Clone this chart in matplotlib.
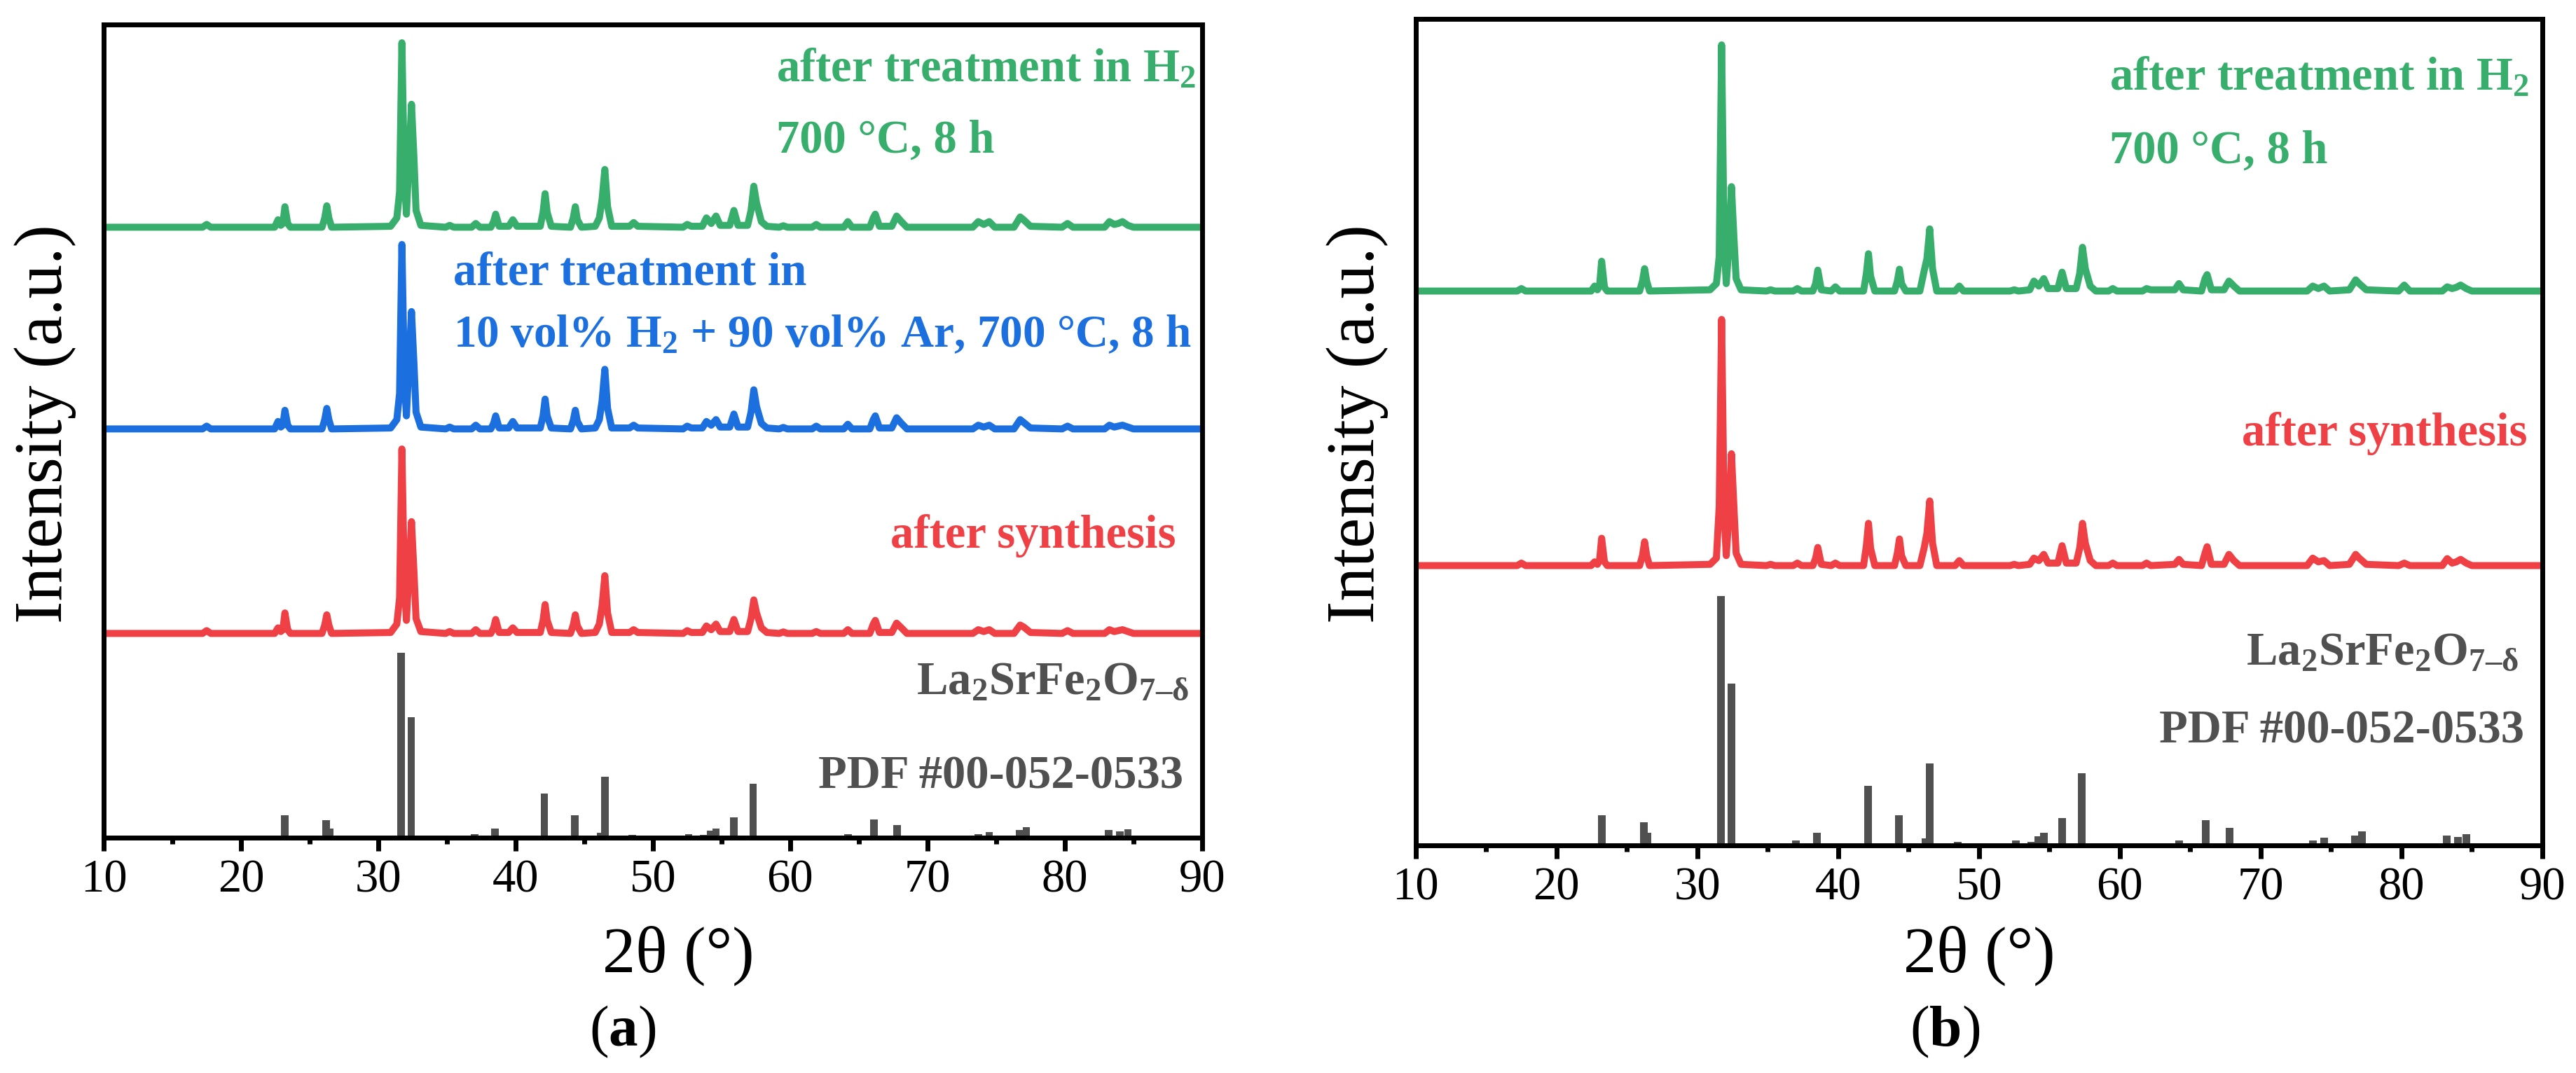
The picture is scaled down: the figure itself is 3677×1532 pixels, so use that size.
import matplotlib
matplotlib.use('Agg')
import matplotlib.pyplot as plt
from matplotlib.ticker import MultipleLocator

plt.rcParams['font.family'] = ['Liberation Serif', 'DejaVu Serif']
plt.rcParams['mathtext.fontset'] = 'custom'
plt.rcParams['mathtext.rm'] = 'Liberation Serif'
plt.rcParams['mathtext.bf'] = 'Liberation Serif:bold'
plt.rcParams['mathtext.default'] = 'regular'

GREEN = '#38ae6c'
BLUE = '#1b6fde'
RED = '#ef4145'
GRAY = '#505050'

# -------------------------------------------------------------------------------
# Data - 2theta nodes shared by all measured patterns (read off the figure)
# -------------------------------------------------------------------------------
two_theta = [
    10.0,
    17.2, 17.5, 17.8,
    22.45, 22.7, 22.9,
    23.05, 23.2, 23.4, 23.6,
    25.9, 26.1, 26.25, 26.4, 26.6,
    30.9, 31.35, 31.55, 31.72, 31.9, 32.05, 32.25, 32.42, 32.6, 32.75, 33.1,
    34.9, 35.2, 35.5,
    36.8, 37.1, 37.4,
    38.2, 38.4, 38.55, 38.8,
    39.5, 39.8, 40.1,
    41.8, 42.0, 42.15, 42.3, 42.6,
    44.0, 44.2, 44.35, 44.5, 44.8,
    45.8, 46.1, 46.3, 46.5, 46.7, 47.0,
    48.3, 48.6, 48.9,
    52.2, 52.5, 52.8,
    53.6, 53.9, 54.25, 54.6, 54.9,
    55.6, 55.9, 56.2,
    56.9, 57.15, 57.35, 57.55, 57.9, 58.3,
    59.2, 59.5, 59.8,
    61.6, 61.9, 62.2,
    63.9, 64.2, 64.5,
    65.8, 66.05, 66.2, 66.5,
    67.4, 67.75, 68.1, 68.5,
    73.3, 73.7, 74.1, 74.5, 74.9,
    76.3, 76.75, 77.0, 77.5,
    79.8, 80.2, 80.6,
    82.9, 83.25, 83.6, 83.9, 84.2, 84.6, 85.0,
    90.0,
]

# relative intensity (%) - panel (a)
h2_a = [
    1.0,
    1, 2.5, 1,
    1, 5, 2,
    3, 12, 3, 1,
    1, 6, 12.5, 6, 1,
    1.5, 6, 20, 100, 28, 8, 40, 67, 38, 10, 2,
    1, 2, 1,
    1, 3, 1,
    1, 4, 8, 1.5,
    1.5, 5, 1.5,
    1.5, 9, 19, 9, 1.5,
    1, 6, 12, 5, 1,
    1.5, 6, 16, 32, 12, 1.5,
    1.5, 3.5, 1.5,
    1, 2.5, 1.5,
    1.5, 6, 3, 7, 2,
    2, 10, 2,
    2, 10, 23, 14, 4, 1.5,
    1, 1.8, 1,
    1, 2.5, 1,
    1, 4, 1,
    1, 6, 8, 1.5,
    1.5, 7, 4, 1,
    1, 4, 2.5, 4, 1,
    1, 6.5, 5, 1.5,
    1, 3, 1,
    1, 4, 2.5, 3, 4, 2, 1,
    1,
]

h2ar_a = [
    1.0,
    1, 2.5, 1,
    1, 5, 2,
    3, 11, 3, 1,
    1, 6, 12, 6, 1,
    1.5, 6, 20, 100, 28, 8, 38, 64, 36, 10, 2,
    1, 2, 1,
    1, 3, 1,
    1, 4, 8, 1.5,
    1.5, 5, 1.5,
    1.5, 8, 17, 8, 1.5,
    1, 5.5, 11, 5, 1,
    1.5, 6, 16, 33, 12, 1.5,
    1.5, 3, 1.5,
    1, 2.5, 1.5,
    1.5, 5, 3, 6, 2,
    2, 9, 2,
    2, 10, 22, 13, 4, 1.5,
    1, 1.8, 1,
    1, 2.5, 1,
    1, 3.5, 1,
    1, 6, 8, 1.5,
    1.5, 7, 4, 1,
    1, 3, 2, 3, 1,
    1, 6, 4.5, 1.5,
    1, 2.5, 1,
    1, 3, 2, 2.5, 3, 2, 1,
    1,
]

synth_a = [
    1.0,
    1, 2.5, 1,
    1, 4, 2,
    3, 12, 3, 1,
    1, 5.5, 11, 5.5, 1,
    1.5, 6, 20, 100, 28, 8, 36, 61, 34, 9, 2,
    1, 2, 1,
    1, 3, 1,
    1, 4, 8.5, 1.5,
    1.5, 4, 1.5,
    1.5, 8, 16.5, 8, 1.5,
    1, 5.5, 11, 5, 1,
    1.5, 6, 16, 32, 12, 1.5,
    1.5, 3, 1.5,
    1, 2.5, 1.5,
    1.5, 5, 3, 6, 2,
    2, 8.5, 2,
    2, 9, 19, 12, 4, 1.5,
    1, 1.8, 1,
    1, 2, 1,
    1, 3, 1,
    1, 6, 8, 1.5,
    1.5, 6.5, 4, 1,
    1, 3, 2, 3, 1,
    1, 5.5, 4.5, 1.5,
    1, 2.5, 1,
    1, 3, 2, 2.5, 3, 2, 1,
    1,
]

# relative intensity (%) - panel (b)
h2_b = [
    1.0,
    1, 2, 1,
    1, 3, 1.5,
    3, 13, 2.5, 1,
    1, 5, 10, 5, 1,
    1.5, 4, 15, 100, 20, 4, 20, 43, 22, 6, 1.5,
    1, 1.5, 1,
    1, 2, 1,
    1, 4, 9.4, 1.5,
    1, 2.7, 1,
    1, 8, 16, 7, 1,
    1, 5, 9.8, 4, 1,
    1, 9, 14, 26, 10, 1,
    1, 3, 1,
    1, 1.5, 1,
    1.5, 5, 3, 6, 2,
    2, 8.6, 2,
    2, 8, 18.6, 10, 3, 1,
    1, 2, 1,
    1, 2, 1.5,
    1.5, 4, 1.5,
    1, 6, 7.6, 1.5,
    1.5, 5, 3, 1,
    1, 3, 2, 3, 1,
    1.5, 5.5, 4, 1.5,
    1, 3.4, 1,
    1, 2.7, 2, 2.5, 3.4, 2, 1,
    1,
]

synth_b = [
    1.0,
    1, 2, 1,
    1, 2.5, 1.5,
    3, 12, 2.5, 1,
    1, 5, 10.6, 5, 1,
    1.5, 4, 25, 100, 22, 5, 22, 46, 24, 6, 1.5,
    1, 1.5, 1,
    1, 2, 1,
    1, 4, 8.3, 1.5,
    1, 2, 1,
    1, 9, 18, 8, 1,
    1, 6, 11.7, 5, 1,
    1, 8, 14, 27, 10, 1,
    1, 3, 1,
    1, 1.5, 1,
    1.5, 4, 3, 5.5, 2,
    2, 9, 2,
    2, 8, 18, 10, 3, 1,
    1, 2, 1,
    1, 2, 1,
    1.5, 3.5, 1.5,
    1, 6, 8.6, 1.5,
    1.5, 5.5, 3, 1,
    1, 4, 2.5, 3, 1,
    1.5, 5.5, 4, 1.5,
    1, 2, 1,
    1, 3.8, 2, 2.5, 3.5, 2, 1,
    1,
]

# reference pattern La2SrFe2O7-d, PDF #00-052-0533
ref_pos = [23.2, 26.2, 26.45, 31.65, 32.4, 37.0, 38.5, 42.1, 44.3, 46.2, 46.5,
           48.5, 52.6, 53.7, 54.2, 54.6, 55.9, 57.3, 64.2, 66.1, 67.8, 73.7,
           74.5, 76.7, 77.2, 83.2, 84.0, 84.6]
ref_int = [12, 9.3, 5, 100, 65, 2, 5, 24, 12, 2.7, 33,
           1.5, 2, 1.5, 3.8, 5, 11, 29, 2, 10, 7, 2,
           3, 4, 5.7, 4, 3.3, 4.5]

xticks = [10, 20, 30, 40, 50, 60, 70, 80, 90]

label_h2 = ['after treatment in H$_2$', '700 °C, 8 h']
label_h2ar = ['after treatment in', '10 vol% H$_2$ + 90 vol% Ar, 700 °C, 8 h']
label_synth = 'after synthesis'
label_ref = ['La$_2$SrFe$_2$O$_{7\u2013\u03b4}$', 'PDF #00-052-0533']


# -------------------------------------------------------------------------------
# Function - To draw one stacked XRD panel
# -------------------------------------------------------------------------------
def draw_panel(ax, curves, scale, stick_scale, ymax):
    for values, color, offset in curves:
        ax.plot(two_theta, [offset + scale * v for v in values], color=color,
                lw=3.6, solid_joinstyle='round', zorder=3)

    ax.bar(ref_pos, [stick_scale * v for v in ref_int], width=0.55,
           bottom=0, color=GRAY, linewidth=0, zorder=2)

    ax.set_xlim(10, 90)
    ax.set_ylim(0, ymax)
    ax.set_xticks(xticks)
    ax.xaxis.set_minor_locator(MultipleLocator(5))
    ax.set_yticks([])
    ax.tick_params(axis='x', which='major', direction='out', length=7,
                   width=2.5, labelsize=24, pad=4)
    ax.tick_params(axis='x', which='minor', direction='out', length=3.2,
                   width=2.5)
    for spine in ax.spines.values():
        spine.set_linewidth(2.5)
        spine.set_zorder(5)


def put_text(ax, x, y, s, color, ha='left', size=24):
    ax.text(x, y, s, transform=ax.transAxes, color=color, fontsize=size,
            fontweight='bold', ha=ha, va='baseline')


# -------------------------------------------------------------------------------
# Main Function
# -------------------------------------------------------------------------------
def main():
    fig = plt.figure(figsize=(18.385, 7.66), dpi=200)

    ax_a = fig.add_axes([0.04025, 0.2193, 0.4264, 0.7578])
    ax_b = fig.add_axes([0.5496, 0.2121, 0.4373, 0.7702])

    draw_panel(ax_a, [(h2_a, GREEN, 869), (h2ar_a, BLUE, 581), (synth_a, RED, 289)],
               scale=2.66, stick_scale=2.64, ymax=1161)
    draw_panel(ax_b, [(h2_b, GREEN, 788), (synth_b, RED, 396)],
               scale=3.55, stick_scale=3.56, ymax=1180)

    # panel (a) annotations
    put_text(ax_a, 0.612, 0.930, label_h2[0], GREEN)
    put_text(ax_a, 0.612, 0.843, label_h2[1], GREEN)
    put_text(ax_a, 0.318, 0.680, label_h2ar[0], BLUE)
    put_text(ax_a, 0.318, 0.604, label_h2ar[1], BLUE, size=23.5)
    put_text(ax_a, 0.976, 0.357, label_synth, RED, ha='right')
    put_text(ax_a, 0.988, 0.177, label_ref[0], GRAY, ha='right')
    put_text(ax_a, 0.983, 0.061, label_ref[1], GRAY, ha='right')

    # panel (b) annotations
    put_text(ax_b, 0.616, 0.914, label_h2[0], GREEN)
    put_text(ax_b, 0.616, 0.826, label_h2[1], GREEN)
    put_text(ax_b, 0.987, 0.484, label_synth, RED, ha='right')
    put_text(ax_b, 0.979, 0.219, label_ref[0], GRAY, ha='right')
    put_text(ax_b, 0.984, 0.124, label_ref[1], GRAY, ha='right')

    # axis titles and panel captions
    for x in (0.0177, 0.527):
        fig.text(x, 0.605, 'Intensity (a.u.)', rotation=90, fontsize=35,
                 ha='center', va='center')
    for x in (0.2633, 0.7683):
        fig.text(x, 0.0946, '2\u03b8 (°)', fontsize=34, ha='center',
                 va='baseline')
    for x, cap in ((0.2418, 'a'), (0.755, 'b')):
        fig.text(x, 0.0255, '($\\mathbf{%s}$)' % cap, fontsize=30,
                 ha='center', va='baseline')

    fig.savefig('out.png', dpi=200)


if __name__ == '__main__':
    main()
